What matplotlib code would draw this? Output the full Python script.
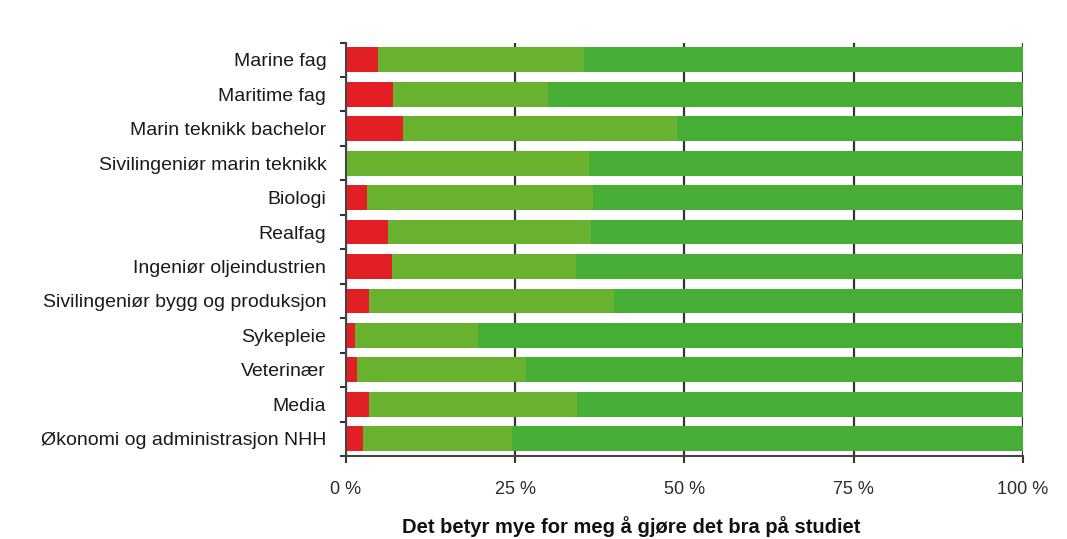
import matplotlib.pyplot as plt
import numpy as np

# Share of students per programme (percent), top row first
programmes = [
    "Marine fag",
    "Maritime fag",
    "Marin teknikk bachelor",
    "Sivilingeniør marin teknikk",
    "Biologi",
    "Realfag",
    "Ingeniør oljeindustrien",
    "Sivilingeniør bygg og produksjon",
    "Sykepleie",
    "Veterinær",
    "Media",
    "Økonomi og administrasjon NHH",
]
disagree = [4.8, 7.0, 8.5, 0.0, 3.1, 6.2, 6.8, 3.4, 1.3, 1.6, 3.4, 2.6]
partly_agree = [30.4, 22.9, 40.4, 35.9, 33.4, 30.0, 27.2, 36.2, 18.3, 25.0, 30.8, 22.0]
agree = [100 - d - p for d, p in zip(disagree, partly_agree)]

x_ticks = [0, 25, 50, 75, 100]
x_tick_labels = ["0 %", "25 %", "50 %", "75 %", "100 %"]

plt.rcParams["font.family"] = ["Liberation Sans", "DejaVu Sans"]

fig = plt.figure(figsize=(10.67, 5.39), dpi=100)
ax = fig.add_axes([0.324, 0.154, 0.6348, 0.767])

y = np.arange(len(programmes))
h = 0.72
ax.barh(y, disagree, height=h, color="#E31F26", zorder=2)
ax.barh(y, partly_agree, left=disagree, height=h, color="#68B22F", zorder=2)
left2 = [d + p for d, p in zip(disagree, partly_agree)]
ax.barh(y, agree, left=left2, height=h, color="#46AD35", zorder=2)

ax.set_xlim(0, 100)
ax.set_ylim(len(programmes) - 0.5, -0.5)

ax.set_xticks(x_ticks)
ax.set_xticklabels(x_tick_labels, fontsize=13, color="#2a2a2a")
ax.tick_params(axis="x", direction="out", length=5, width=1.5, color="#333333", pad=13)
ax.xaxis.grid(True, color="#333333", linewidth=1.6, zorder=0)

ax.set_yticks(y)
ax.set_yticklabels(programmes, fontsize=14, color="#1a1a1a")
ax.tick_params(axis="y", length=0, pad=14)
ax.set_yticks(np.arange(-0.5, len(programmes), 1), minor=True)
ax.tick_params(axis="y", which="minor", direction="out", length=4, width=1.5, color="#333333")

for side in ("top", "right"):
    ax.spines[side].set_visible(False)
for side in ("left", "bottom"):
    ax.spines[side].set_color("#444444")
    ax.spines[side].set_linewidth(1.5)

ax.set_xlabel("Det betyr mye for meg å gjøre det bra på studiet",
              fontsize=14.5, fontweight="bold", color="#111111")
ax.xaxis.set_label_coords(0.422, -0.146)

fig.savefig("out.png", dpi=100)
